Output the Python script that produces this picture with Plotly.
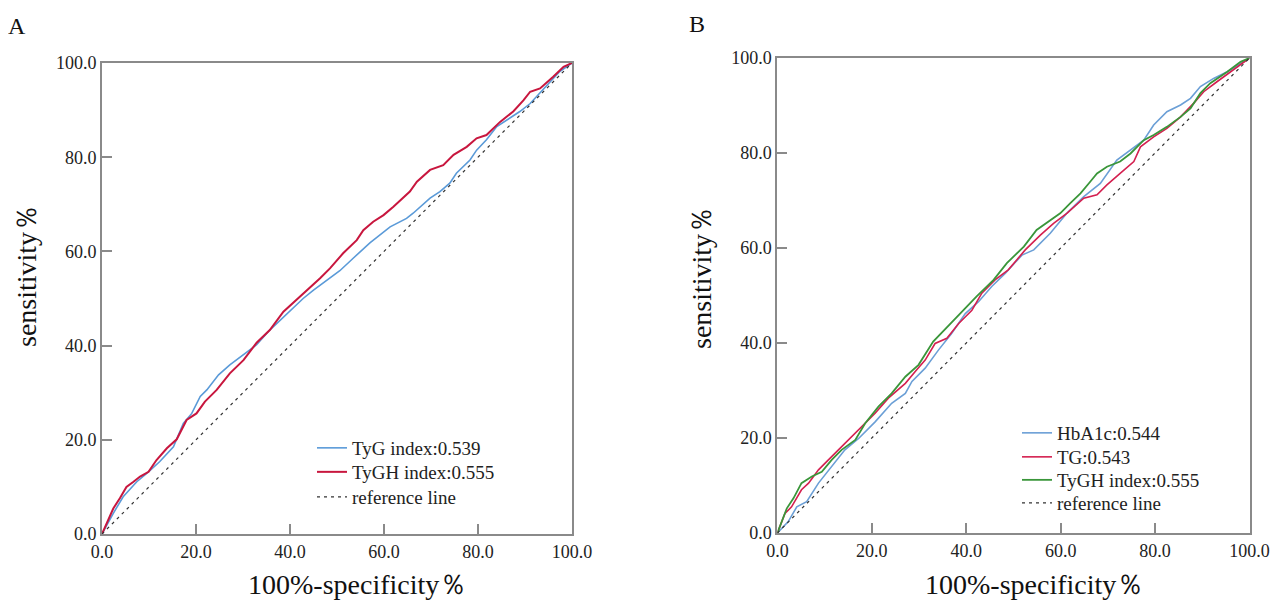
import plotly.graph_objects as go

# ---------------- data ----------------
# Panel A
a_tyg_x = [0, 2.4, 4.5, 7.4, 9.9, 12.3, 15.2, 17.3, 19.1, 20.9, 22.3, 24.8, 27.2, 30.1, 32.9, 35.7,
           37.2, 40.0, 42.8, 45.0, 47.1, 49.2, 50.6, 53.5, 57.0, 61.3, 64.8, 66.2, 69.8, 71.9, 74.0,
           75.4, 78.3, 79.7, 81.8, 84.0, 86.1, 88.9, 91.1, 93.2, 95.3, 97.4, 100]
a_tyg_y = [0, 4.4, 7.9, 11.1, 13.2, 15.4, 18.5, 23.5, 25.6, 29.2, 30.6, 33.8, 35.9, 38.0, 40.2, 43.3,
           44.7, 47.2, 50.0, 51.8, 53.4, 55.0, 55.9, 58.6, 61.8, 65.2, 67.0, 68.1, 71.3, 72.7, 74.5,
           76.6, 79.4, 81.5, 83.7, 86.5, 87.9, 89.7, 91.4, 93.6, 96.0, 98.2, 100]
a_tygh_x = [0, 2.4, 3.8, 5.2, 6.7, 8.1, 9.9, 11.6, 13.8, 15.9, 18.0, 20.1, 21.9, 24.4, 27.2, 30.1,
            32.9, 35.7, 38.6, 41.4, 44.3, 46.4, 48.5, 51.3, 54.2, 55.6, 57.7, 59.9, 62.0, 65.5, 67.0,
            69.8, 72.6, 74.8, 77.6, 79.7, 81.8, 84.7, 87.5, 89.7, 91.1, 93.2, 96.0, 98.2, 100]
a_tygh_y = [0, 5.4, 7.6, 10.0, 11.1, 12.2, 13.2, 15.7, 18.2, 20.1, 24.2, 25.6, 28.1, 30.6, 34.1, 36.9,
            40.6, 43.3, 47.2, 49.7, 52.5, 54.3, 56.4, 59.6, 62.4, 64.5, 66.3, 67.7, 69.5, 72.7, 74.8,
            77.3, 78.3, 80.5, 82.2, 84.0, 84.7, 87.5, 89.7, 92.1, 93.9, 94.6, 97.1, 99.2, 100]

# Panel B
b_hba1c_x = [0, 2.3, 4.1, 6.2, 8.7, 11.5, 14.3, 17.2, 20.7, 24.2, 27.1, 28.5, 31.3, 34.1, 36.9,
             39.8, 42.6, 45.4, 48.3, 51.8, 54.3, 57.8, 61.3, 64.9, 68.4, 71.9, 74.8, 77.6, 79.7,
             82.5, 85.4, 87.5, 89.6, 92.4, 95.3, 98.1, 100]
b_hba1c_y = [0, 2.4, 5.5, 6.6, 10.5, 14.0, 17.5, 19.9, 23.4, 27.3, 29.4, 31.9, 34.7, 38.5, 42.0,
             46.2, 48.7, 51.9, 54.7, 58.5, 59.6, 63.1, 67.3, 70.8, 73.6, 78.5, 80.6, 82.7, 85.9,
             88.7, 90.1, 91.5, 94.0, 95.7, 97.1, 98.9, 100]
b_tg_x = [0, 1.6, 3.0, 5.1, 6.6, 8.7, 10.8, 12.9, 15.0, 17.9, 20.7, 23.5, 27.1, 29.2, 31.3, 33.4,
          35.9, 38.4, 41.2, 43.3, 46.1, 48.9, 52.5, 55.7, 58.5, 61.3, 64.9, 67.7, 69.8, 72.6, 75.5,
          76.9, 79.7, 82.5, 85.4, 88.2, 90.3, 93.1, 96.0, 100]
b_tg_y = [0, 4.1, 5.5, 9.1, 10.5, 13.3, 15.4, 17.5, 19.6, 22.4, 25.2, 28.4, 31.5, 34.0, 36.4, 39.9,
          41.0, 44.1, 46.9, 50.5, 53.3, 55.4, 59.6, 62.7, 65.2, 67.3, 70.5, 71.2, 73.3, 75.7, 78.2,
          81.3, 83.4, 85.2, 87.6, 90.5, 92.9, 95.0, 97.1, 100]
b_tygh_x = [0, 2.0, 3.4, 5.1, 7.3, 9.4, 11.5, 13.6, 16.5, 18.6, 21.4, 24.2, 27.1, 29.9, 33.0, 35.9,
            38.7, 42.2, 45.8, 48.6, 52.2, 54.9, 57.8, 59.9, 62.0, 64.2, 66.3, 67.7, 69.8, 72.6, 74.8,
            77.6, 79.7, 82.5, 85.4, 87.5, 89.6, 91.7, 95.3, 98.1, 100]
b_tygh_y = [0, 5.2, 7.3, 10.5, 11.9, 12.9, 15.4, 17.5, 19.6, 23.1, 26.6, 29.4, 32.9, 35.4, 40.3, 43.4,
            46.2, 49.8, 53.3, 56.8, 60.3, 63.8, 65.9, 67.3, 69.4, 71.5, 74.0, 75.7, 77.1, 78.2, 79.9,
            82.7, 83.8, 85.5, 87.6, 89.4, 92.6, 94.7, 97.1, 99.2, 100]

ref_x = [0, 100]
ref_y = [0, 100]

tick_vals = [0, 20, 40, 60, 80, 100]
tick_text = ["0.0", "20.0", "40.0", "60.0", "80.0", "100.0"]

names_a = ["TyG index:0.539", "TyGH index:0.555", "reference line"]
names_b = ["HbA1c:0.544", "TG:0.543", "TyGH index:0.555", "reference line"]

# ---------------- figure ----------------
# the page body has an 8px margin, so the figure is drawn 8px in from the window corner
OFF = 8
W, H = 1279 - OFF, 604 - OFF
SERIF = "Liberation Serif"


def px(x):  # window x pixel -> paper fraction
    return (x - OFF) / W


def py(y):  # window y pixel (from top) -> paper fraction
    return (H - (y - OFF)) / H


fig = go.Figure()


def line_trace(x, y, name, color, width, xa, ya, legend, dash="solid"):
    return go.Scatter(x=x, y=y, mode="lines", name=name, xaxis=xa, yaxis=ya, legend=legend,
                      line=dict(color=color, width=width, dash=dash), hoverinfo="skip")


fig.add_trace(line_trace(a_tyg_x, a_tyg_y, names_a[0], "#5a9ad8", 1.6, "x", "y", "legend"))
fig.add_trace(line_trace(a_tygh_x, a_tygh_y, names_a[1], "#c8163e", 2.0, "x", "y", "legend2"))
fig.add_trace(line_trace(ref_x, ref_y, names_a[2], "#333333", 1.2, "x", "y", "legend3", dash="3px,4px"))

fig.add_trace(line_trace(b_hba1c_x, b_hba1c_y, names_b[0], "#6b9fd6", 1.6, "x2", "y2", "legend4"))
fig.add_trace(line_trace(b_tg_x, b_tg_y, names_b[1], "#d42050", 1.6, "x2", "y2", "legend5"))
fig.add_trace(line_trace(b_tygh_x, b_tygh_y, names_b[2], "#3a963a", 1.8, "x2", "y2", "legend6"))
fig.add_trace(line_trace(ref_x, ref_y, names_b[3], "#333333", 1.2, "x2", "y2", "legend7", dash="3px,4px"))

axis_common = dict(range=[0, 100], tickvals=tick_vals, ticktext=tick_text, showgrid=False,
                   zeroline=False, showline=True, mirror=True, linecolor="#8a8a8a", linewidth=2,
                   ticks="inside", ticklen=10, tickwidth=1.5, tickcolor="#8a8a8a",
                   tickfont=dict(family=SERIF, size=18, color="#222222"), fixedrange=True)

leg_font = dict(family=SERIF, size=19, color="#222222")


def leg(xpx, ypx):
    return dict(x=px(xpx), y=py(ypx), xanchor="left", yanchor="middle",
                bgcolor="rgba(0,0,0,0)", font=leg_font, itemwidth=30, tracegroupgap=0,
                borderwidth=0)


fig.update_layout(
    width=W, height=H, margin=dict(l=0, r=0, t=0, b=0, autoexpand=False),
    paper_bgcolor="white", plot_bgcolor="white",
    xaxis=dict(domain=[px(102), px(572)], anchor="y", **axis_common),
    yaxis=dict(domain=[py(534), py(63)], anchor="x", **axis_common),
    xaxis2=dict(domain=[px(777.4), px(1249.5)], anchor="y2", **axis_common),
    yaxis2=dict(domain=[py(533), py(58)], anchor="x2", **axis_common),
    legend=leg(312, 448), legend2=leg(312, 472), legend3=leg(312, 497),
    legend4=leg(1017, 433), legend5=leg(1017, 457), legend6=leg(1017, 480), legend7=leg(1017, 503),
    showlegend=True,
)

title_font = dict(family=SERIF, size=28, color="#111111")
annots = [
    dict(text="A", x=px(17), y=py(26), font=dict(family=SERIF, size=24, color="#111")),
    dict(text="B", x=px(697), y=py(24), font=dict(family=SERIF, size=24, color="#111")),
    dict(text="100%-specificity％", x=px(357), y=py(584), font=title_font),
    dict(text="100%-specificity％", x=px(1034), y=py(584), font=title_font),
    dict(text="sensitivity％", x=px(26), y=py(276), textangle=-90, font=title_font),
    dict(text="sensitivity％", x=px(701), y=py(278), textangle=-90, font=title_font),
]
for a in annots:
    fig.add_annotation(xref="paper", yref="paper", showarrow=False, xanchor="center",
                       yanchor="middle", **a)

fig.write_html("out.html")
